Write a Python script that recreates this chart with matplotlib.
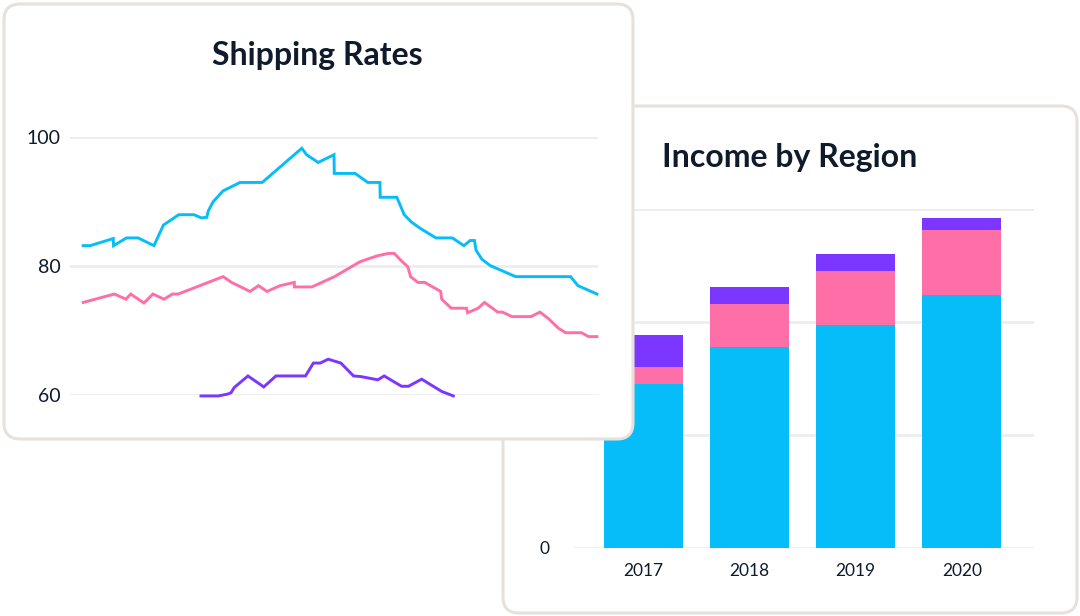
import matplotlib
matplotlib.use("Agg")
import matplotlib.pyplot as plt
from matplotlib.patches import FancyBboxPatch
from matplotlib.transforms import Affine2D

# ---------------- data ----------------
# Shipping Rates (x = position along the period, 0..100)
blue_x = [2.5, 3.8, 8.2, 8.25, 10.7, 12.9, 15.9, 17.7, 20.6, 23.5, 24.9, 25.9, 26.2, 27.1,
          29.0, 32.2, 36.4, 43.9, 44.8, 47.0, 50.0, 50.05, 54.0, 56.4, 58.7, 58.75, 61.9,
          63.3, 64.6, 66.3, 69.3, 72.4, 74.6, 75.8, 76.6, 76.9, 78.0, 79.6, 84.4, 94.8, 96.2, 99.8]
blue_y = [83.2, 83.2, 84.3, 83.2, 84.4, 84.4, 83.2, 86.4, 88.0, 88.0, 87.5, 87.6, 88.6, 90.0,
          91.7, 93.0, 93.0, 98.3, 97.3, 96.1, 97.3, 94.4, 94.4, 93.0, 93.0, 90.7, 90.7,
          88.0, 86.9, 85.9, 84.4, 84.4, 83.2, 84.0, 84.0, 82.5, 81.1, 80.1, 78.4, 78.4, 77.0, 75.7]

pink_x = [2.5, 8.4, 10.6, 11.5, 14.0, 15.7, 17.8, 19.4, 20.5, 29.0, 30.6, 34.1, 35.7, 37.3,
          39.8, 42.48, 42.5, 45.8, 50.1, 54.9, 58.1, 60.3, 61.4, 62.7, 64.0, 64.5, 65.9, 67.2,
          70.2, 70.4, 72.2, 75.1, 75.3, 77.3, 78.5, 81.0, 81.9, 83.7, 87.3, 89.0, 90.6, 92.5,
          93.9, 96.9, 98.2, 99.8]
pink_y = [74.4, 75.7, 74.9, 75.7, 74.3, 75.7, 74.9, 75.7, 75.7, 78.4, 77.5, 76.1, 77.0, 76.1,
          77.0, 77.5, 76.8, 76.8, 78.4, 80.7, 81.6, 82.0, 82.0, 80.9, 79.9, 78.4, 77.5, 77.5,
          76.1, 74.9, 73.5, 73.5, 72.8, 73.5, 74.4, 72.9, 72.9, 72.2, 72.2, 72.9, 71.9, 70.4,
          69.7, 69.7, 69.1, 69.1]

purple_x = [24.8, 28.1, 29.9, 30.5, 31.1, 33.7, 36.7, 39.0, 44.6, 46.1, 47.4, 48.9, 51.3, 53.7,
            55.1, 58.3, 59.5, 62.8, 64.1, 66.6, 70.4, 72.6]
purple_y = [59.9, 59.9, 60.2, 60.4, 61.2, 63.0, 61.3, 63.0, 63.0, 65.0, 65.0, 65.6, 65.0, 63.0,
            62.9, 62.4, 63.0, 61.4, 61.4, 62.5, 60.6, 59.9]

line_ticks = [60, 80, 100]

# Income by Region
years = ["2017", "2018", "2019", "2020"]
region_a = [36.2, 44.5, 49.3, 55.9]
region_b = [3.9, 9.5, 11.9, 14.5]
region_c = [7.0, 3.8, 3.8, 2.5]
bar_ticks = [0, 25, 50, 75]
bar_tick_labels = ["0", "", "", ""]

# ---------------- style ----------------
CYAN = "#06bdf9"
PINK = "#ff6fa7"
PURPLE = "#7b36ff"
DARK = "#0f1b2b"
GRID = "#eceeee"
BORDER = "#e6e2db"
W, H = 1080, 616

fig = plt.figure(figsize=(W / 100, H / 100), dpi=100)
fig.patch.set_facecolor("white")
pix = Affine2D().scale(1 / W, -1 / H).translate(0, 1) + fig.transFigure


def card(x0, y0, x1, y1, z):
    p = FancyBboxPatch((x0, y0), x1 - x0, y1 - y0,
                       boxstyle="round,pad=0,rounding_size=16",
                       facecolor="white", edgecolor=BORDER, linewidth=2.2,
                       transform=pix, zorder=z)
    fig.add_artist(p)


def ax_at(x0, y0, x1, y1, z):
    a = fig.add_axes([x0 / W, 1 - y1 / H, (x1 - x0) / W, (y1 - y0) / H])
    a.set_zorder(z)
    a.patch.set_alpha(0)
    return a


# ---- right card: Income by Region ----
card(503, 106, 1077, 613, 0)
fig.text(790 / W, 1 - 157 / H, "Income by Region", ha="center", va="center",
         fontsize=23, fontweight="bold", family="Lato", color=DARK, zorder=1)

axb = ax_at(573, 209, 1034, 548, 1)
xs = range(len(years))
axb.bar(xs, region_a, width=0.745, color=CYAN, zorder=2)
axb.bar(xs, region_b, width=0.745, bottom=region_a, color=PINK, zorder=2)
tops = [a + b for a, b in zip(region_a, region_b)]
axb.bar(xs, region_c, width=0.745, bottom=tops, color=PURPLE, zorder=2)
axb.set_xlim(-0.665, 3.68)
axb.set_ylim(0, 75)
axb.set_yticks(bar_ticks)
axb.set_yticklabels(bar_tick_labels)
axb.set_xticks(list(xs))
axb.set_xticklabels(years)
axb.yaxis.grid(True, color=GRID, linewidth=2, zorder=0)
axb.set_axisbelow(True)
for s in axb.spines.values():
    s.set_visible(False)
axb.tick_params(axis="both", length=0, labelsize=12.5, labelcolor=DARK)
axb.tick_params(axis="y", pad=17)
axb.tick_params(axis="x", pad=11)
for lab in axb.get_xticklabels() + axb.get_yticklabels():
    lab.set_family("Lato")

# ---- left card: Shipping Rates ----
card(4, 4, 633, 439, 5)
fig.text(317 / W, 1 - 55 / H, "Shipping Rates", ha="center", va="center",
         fontsize=23, fontweight="bold", family="Lato", color=DARK, zorder=6)

axl = ax_at(70, 137.3, 598, 395.3, 6)
axl.plot(blue_x, blue_y, color=CYAN, linewidth=2.1, clip_on=False, solid_joinstyle="miter")
axl.plot(pink_x, pink_y, color=PINK, linewidth=2.1, clip_on=False, solid_joinstyle="miter")
axl.plot(purple_x, purple_y, color=PURPLE, linewidth=2.1, clip_on=False, solid_joinstyle="miter")
axl.set_xlim(0, 100)
axl.set_ylim(60, 100)
axl.set_yticks(line_ticks)
axl.set_yticklabels([str(t) for t in line_ticks])
axl.set_xticks([])
axl.yaxis.grid(True, color=GRID, linewidth=2, zorder=0)
axl.set_axisbelow(True)
for s in axl.spines.values():
    s.set_visible(False)
axl.tick_params(axis="y", length=0, labelsize=14, labelcolor=DARK, pad=7)
for lab in axl.get_yticklabels():
    lab.set_family("Lato")

fig.savefig("out.png", dpi=100, facecolor="white")
